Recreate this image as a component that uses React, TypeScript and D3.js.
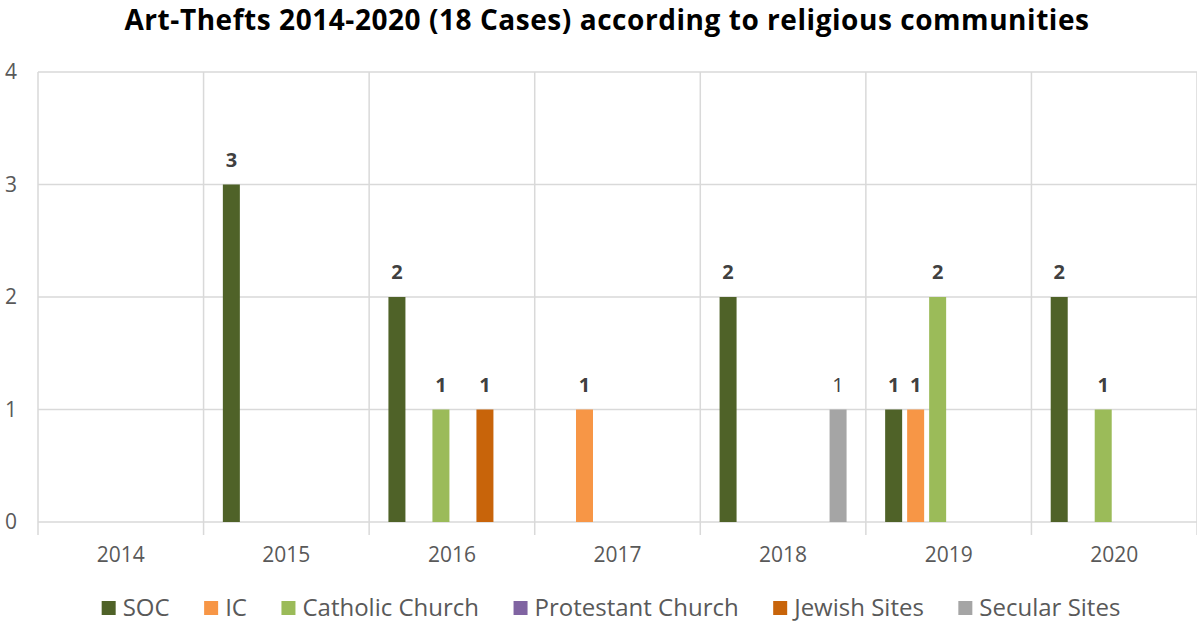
import React, { useEffect, useRef } from "react";
import * as d3 from "d3";

const years = ["2014", "2015", "2016", "2017", "2018", "2019", "2020"];
const seriesNames = ["SOC", "IC", "Catholic Church", "Protestant Church", "Jewish Sites", "Secular Sites"];
const seriesColors = ["#4f6228", "#f79646", "#9bbb59", "#8064a2", "#c8640a", "#a5a5a5"];
const socValues = [0, 3, 2, 0, 2, 1, 2];
const icValues = [0, 0, 0, 1, 0, 1, 0];
const catholicValues = [0, 0, 1, 0, 0, 2, 1];
const protestantValues = [0, 0, 0, 0, 0, 0, 0];
const jewishValues = [0, 0, 1, 0, 0, 0, 0];
const secularValues = [0, 0, 0, 0, 1, 0, 0];
const yTicks = [0, 1, 2, 3, 4];
const title = "Art-Thefts 2014-2020 (18 Cases) according to religious communities";

const W = 1197, H = 623;

export default function App() {
  const ref = useRef<SVGSVGElement>(null);
  useEffect(() => {
    const svg = d3.select(ref.current);
    svg.selectAll("*").remove();
    const font = "'Open Sans', sans-serif";
    const left = 38, right = 1197, top = 72, bottom = 522;
    const allSeries = [socValues, icValues, catholicValues, protestantValues, jewishValues, secularValues];

    const x = d3.scaleBand().domain(years).range([left, right]).paddingInner(0).paddingOuter(0);
    const groupWidth = 132;
    const xs = d3.scaleBand().domain(seriesNames).range([0, groupWidth]).paddingInner(5 / 22).paddingOuter(2.5 / 22);
    const y = d3.scaleLinear().domain([0, 4]).range([bottom, top]);

    // title
    svg.append("text").attr("x", 607).attr("y", 30).attr("text-anchor", "middle")
      .attr("font-family", font).attr("font-weight", 700).attr("font-size", 28)
      .attr("letter-spacing", 0.55).attr("fill", "#000")
      .text(title);

    // horizontal gridlines
    svg.append("g").selectAll("line").data(yTicks).join("line")
      .attr("x1", left).attr("x2", right).attr("y1", d => y(d)).attr("y2", d => y(d))
      .attr("stroke", "#d9d9d9").attr("stroke-width", 1.5);
    // vertical gridlines
    const bounds = years.map(yv => x(yv)!).concat([right]);
    svg.append("g").selectAll("line").data(bounds).join("line")
      .attr("x1", d => d).attr("x2", d => d).attr("y1", top).attr("y2", bottom + 13)
      .attr("stroke", "#d9d9d9").attr("stroke-width", 1.5);

    // y labels
    svg.append("g").selectAll("text").data(yTicks).join("text")
      .attr("x", 11).attr("y", d => y(d)).attr("dy", "0.35em").attr("text-anchor", "middle")
      .attr("font-family", font).attr("font-size", 21).attr("fill", "#595959").text(d => d);

    // x labels
    svg.append("g").selectAll("text").data(years).join("text")
      .attr("x", d => x(d)! + x.bandwidth() / 2).attr("y", 562).attr("text-anchor", "middle")
      .attr("font-family", font).attr("font-size", 21).attr("fill", "#595959").text(d => d);

    // bars
    const offset = (x.bandwidth() - groupWidth) / 2;
    seriesNames.forEach((name, si) => {
      const vals = allSeries[si];
      const g = svg.append("g");
      const data = years.map((yr, i) => ({ yr, v: vals[i] })).filter(d => d.v > 0);
      g.selectAll("rect").data(data).join("rect")
        .attr("x", d => x(d.yr)! + offset + xs(name)!)
        .attr("width", xs.bandwidth())
        .attr("y", d => y(d.v)).attr("height", d => y(0) - y(d.v))
        .attr("fill", seriesColors[si]);
      g.selectAll("text").data(data).join("text")
        .attr("x", d => x(d.yr)! + offset + xs(name)! + xs.bandwidth() / 2)
        .attr("y", d => y(d.v) - 18).attr("text-anchor", "middle")
        .attr("font-family", font).attr("font-size", 20)
        .attr("font-weight", name === "Secular Sites" ? 400 : 700)
        .attr("fill", "#404040").text(d => d.v);
    });

    // legend
    const lg = svg.append("g");
    const items = seriesNames.map((name, i) => {
      const g = lg.append("g");
      g.append("rect").attr("x", 0).attr("y", -7).attr("width", 14).attr("height", 14).attr("fill", seriesColors[i]);
      const t = g.append("text").attr("x", 21).attr("y", 0).attr("dy", "0.35em")
        .attr("font-family", font).attr("font-size", 24).attr("fill", "#595959").text(name);
      const w = 21 + (t.node() as SVGTextElement).getComputedTextLength();
      return { g, w };
    });
    const gap = 34.5;
    const total = d3.sum(items, d => d.w) + gap * (items.length - 1);
    let cx = 611 - total / 2;
    items.forEach(it => {
      it.g.attr("transform", `translate(${cx},608)`);
      cx += it.w + gap;
    });
  }, []);
  return <svg ref={ref} width={W} height={H} style={{ display: "block", position: "absolute", left: 0, top: 0 }} />;
}
